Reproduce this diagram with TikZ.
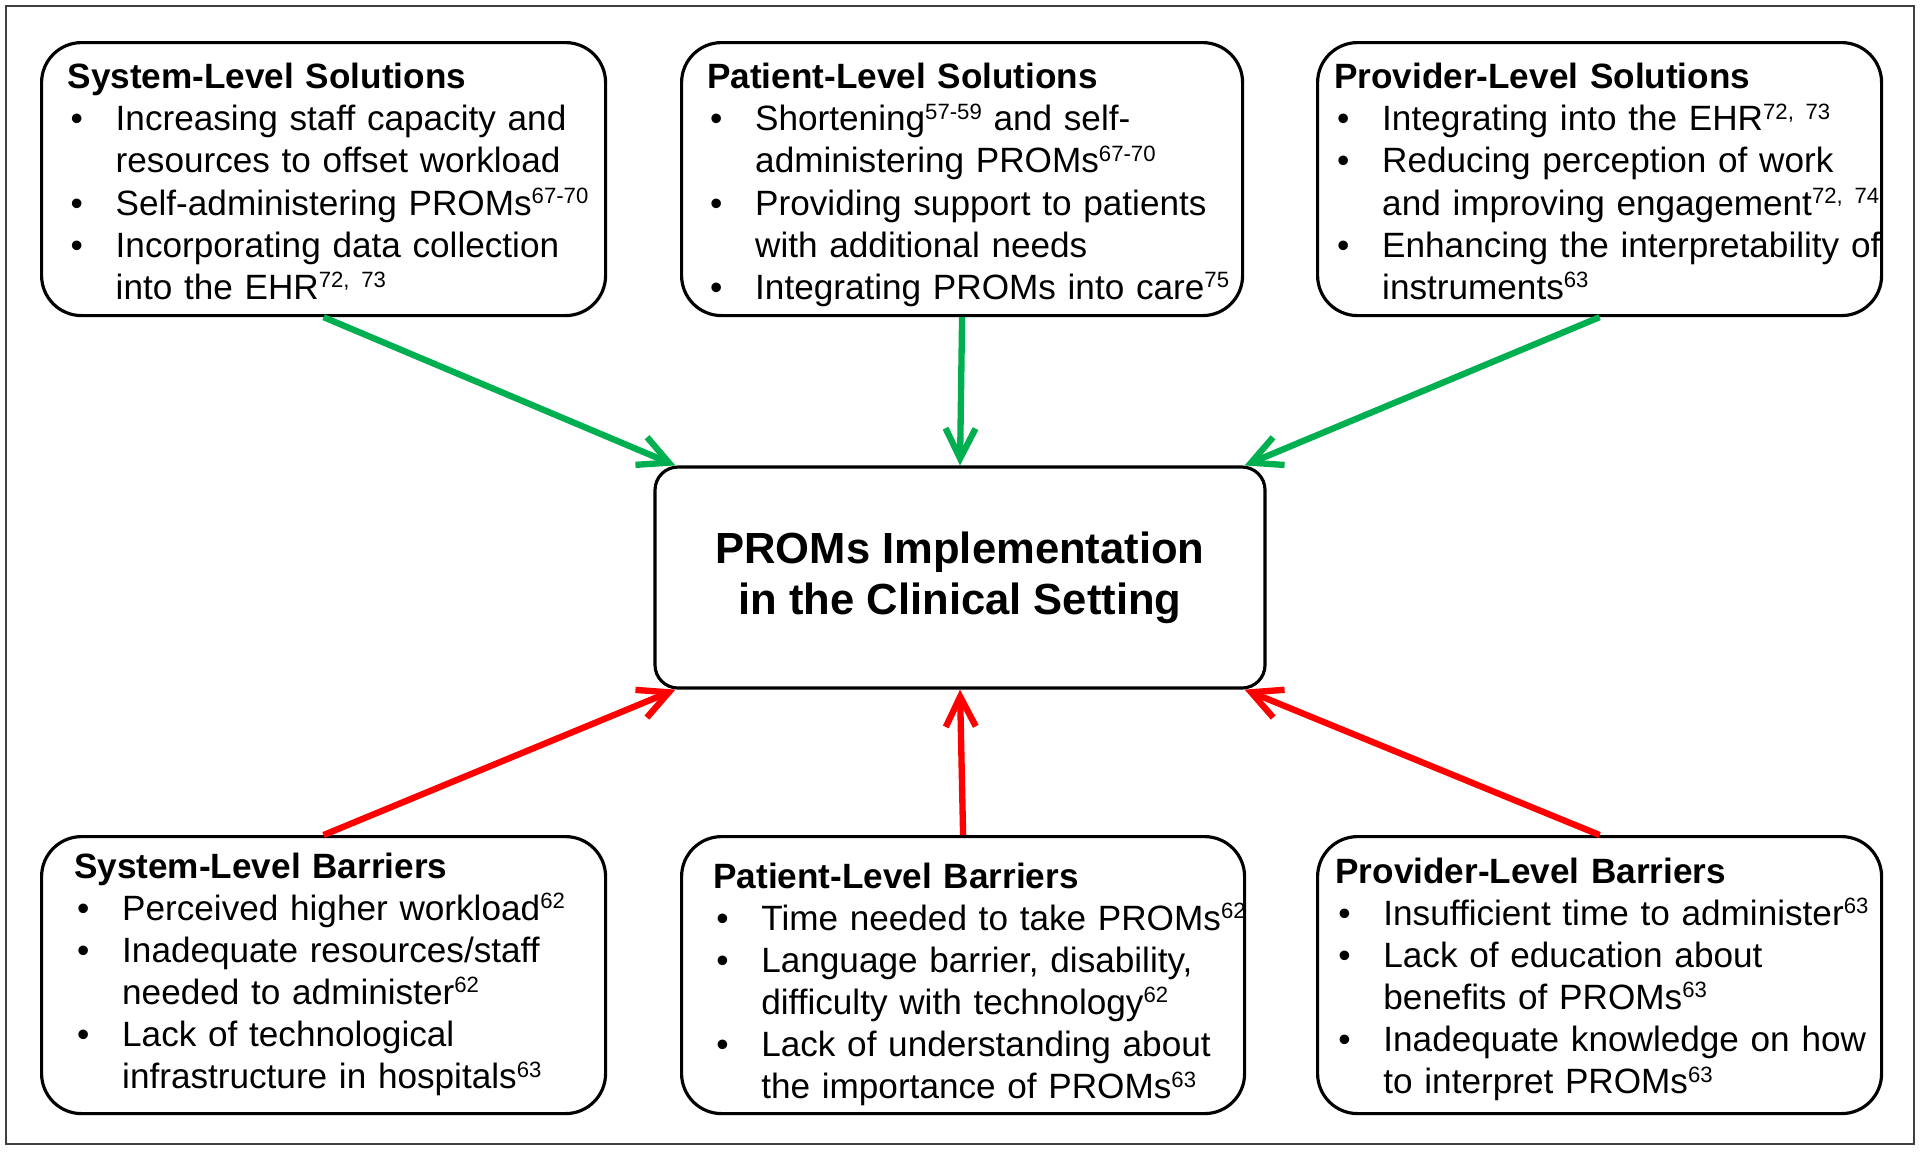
\documentclass[tikz,border=0pt]{standalone}
\usepackage{fontspec}
\setmainfont{Liberation Sans}
\usepackage{tikz}
\usetikzlibrary{calc,arrows.meta}
\definecolor{arrgreen}{RGB}{0,176,80}
\definecolor{arrred}{RGB}{255,0,0}

\begin{document}
\begin{tikzpicture}[
    box/.style={draw, rounded corners=0.4cm, line width=0.9pt, inner sep=0,
      anchor=north west, minimum width=\bw cm},
    txt/.style={anchor=base west, inner sep=0, text width=5.8cm, align=left,
      font=\fontsize{10}{12}\selectfont},
    cbox/.style={draw, rounded corners=0.23cm, line width=0.9pt, align=center,
      minimum width=6.10cm, minimum height=2.21cm,
      font=\fontsize{12.4}{14.6}\selectfont\bfseries},
    gar/.style={draw=arrgreen, line width=1.8pt, -{Straight Barb[length=3mm,width=3mm]}},
    rar/.style={draw=arrred, line width=1.8pt, -{Straight Barb[length=3mm,width=3mm]}},
    frm/.style={draw=black!75, line width=0.7pt}
  ]
    \newcommand{\bw}{5.64};
    \newcommand{\hi}{0.48cm};
    \newcommand{\itm}{\par\hangindent=\hi\hangafter=1\noindent\makebox[\hi][l]{\hspace{0.03cm}\textbullet}}
    \newcommand{\sps}[1]{\raisebox{3.3pt}{\fontsize{6.3}{6.3}\selectfont #1}}
    \useasboundingbox (0,0) rectangle (19.2,-11.51);
    \draw[frm] (0.06,-0.06) rectangle (19.14,-11.44);

    % solutions
    \node[box, minimum height=2.73cm] (sysS) at (0.40,-0.41) {};
    \node[box, minimum height=2.73cm, minimum width=5.61cm] (patS) at (6.80,-0.41) {};
    \node[box, minimum height=2.73cm] (proS) at (13.16,-0.41) {};
    \node[txt] (sysSt) at (0.67,-0.885) {\noindent\textbf{System-Level Solutions}
      \itm Increasing staff capacity and\newline resources to offset workload
      \itm Self-administering PROMs\sps{67-70}
      \itm Incorporating data collection\newline into the EHR\sps{72, 73}\par};
    \node[txt] (patSt) at (7.065,-0.885) {\noindent\textbf{Patient-Level Solutions}
      \itm Shortening\sps{57-59} and self-\newline administering PROMs\sps{67-70}
      \itm Providing support to patients\newline with additional needs
      \itm Integrating PROMs into care\sps{75}\par};
    \node[txt] (proSt) at (13.335,-0.885) {\noindent\textbf{Provider-Level Solutions}
      \itm Integrating into the EHR\sps{72, 73}
      \itm Reducing perception of work\newline and improving engagement\sps{72, 74}
      \itm Enhancing the interpretability of\newline instruments\sps{63}\par};

    % centre
    \node[cbox] (prom) at (9.60,-5.775) {PROMs Implementation\\in the Clinical Setting};

    % barriers
    \node[box, minimum height=2.77cm] (sysB) at (0.40,-8.35) {};
    \node[box, minimum height=2.77cm, minimum width=5.63cm] (patB) at (6.80,-8.35) {};
    \node[box, minimum height=2.77cm] (proB) at (13.16,-8.35) {};
    \node[txt] (sysBt) at (0.735,-8.78) {\noindent\textbf{System-Level Barriers}
      \itm Perceived higher workload\sps{62}
      \itm Inadequate resources/staff\newline needed to administer\sps{62}
      \itm Lack of technological\newline infrastructure in hospitals\sps{63}\par};
    \node[txt] (patBt) at (7.126,-8.88) {\noindent\textbf{Patient-Level Barriers}
      \itm Time needed to take PROMs\sps{62}
      \itm Language barrier, disability,\newline difficulty with technology\sps{62}
      \itm Lack of understanding about\newline the importance of PROMs\sps{63}\par};
    \node[txt] (proBt) at (13.347,-8.83) {\noindent\textbf{Provider-Level Barriers}
      \itm Insufficient time to administer\sps{63}
      \itm Lack of education about\newline benefits of PROMs\sps{63}
      \itm Inadequate knowledge on how\newline to interpret PROMs\sps{63}\par};

    \draw[gar] (sysS.south) -- ([xshift=0.22cm]prom.north west);
    \draw[gar] (patS.south) -- (prom.north);
    \draw[gar] (proS.south) -- ([xshift=-0.22cm]prom.north east);
    \draw[rar] (sysB.north) -- ([xshift=0.22cm]prom.south west);
    \draw[rar] (patB.north) -- (prom.south);
    \draw[rar] (proB.north) -- ([xshift=-0.22cm]prom.south east);
\end{tikzpicture}
\end{document}
